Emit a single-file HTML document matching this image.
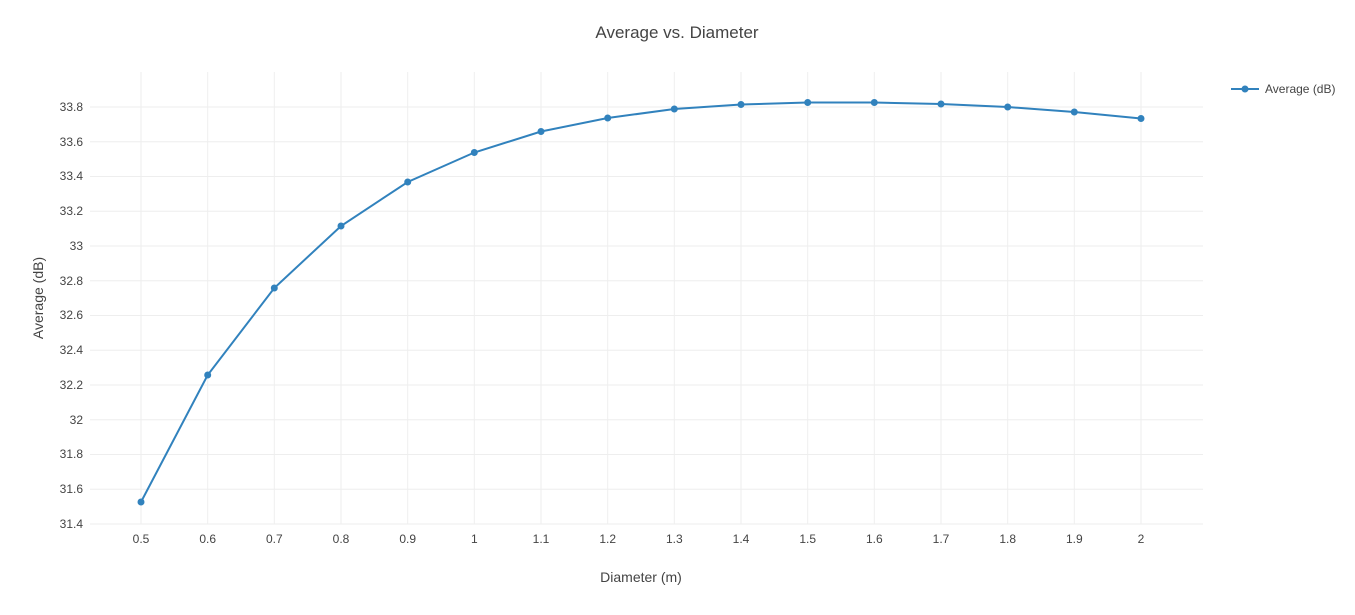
<!DOCTYPE html>
<html><head><meta charset="utf-8"><style>
body{margin:0;background:#fff;}
svg text{font-family:"Liberation Sans",sans-serif;fill:#444;}
</style></head><body>
<svg width="1355" height="610" xmlns="http://www.w3.org/2000/svg">
<rect width="1355" height="610" fill="#fff"/>
<g stroke="#eee" stroke-width="1">
<line x1="141" y1="72" x2="141" y2="524"/><line x1="207.7" y1="72" x2="207.7" y2="524"/><line x1="274.3" y1="72" x2="274.3" y2="524"/><line x1="341" y1="72" x2="341" y2="524"/><line x1="407.7" y1="72" x2="407.7" y2="524"/><line x1="474.3" y1="72" x2="474.3" y2="524"/><line x1="541" y1="72" x2="541" y2="524"/><line x1="607.7" y1="72" x2="607.7" y2="524"/><line x1="674.3" y1="72" x2="674.3" y2="524"/><line x1="741" y1="72" x2="741" y2="524"/><line x1="807.7" y1="72" x2="807.7" y2="524"/><line x1="874.3" y1="72" x2="874.3" y2="524"/><line x1="941" y1="72" x2="941" y2="524"/><line x1="1007.7" y1="72" x2="1007.7" y2="524"/><line x1="1074.3" y1="72" x2="1074.3" y2="524"/><line x1="1141" y1="72" x2="1141" y2="524"/>
<line x1="90" y1="524" x2="1203" y2="524"/><line x1="90" y1="489.25" x2="1203" y2="489.25"/><line x1="90" y1="454.5" x2="1203" y2="454.5"/><line x1="90" y1="419.75" x2="1203" y2="419.75"/><line x1="90" y1="385" x2="1203" y2="385"/><line x1="90" y1="350.25" x2="1203" y2="350.25"/><line x1="90" y1="315.5" x2="1203" y2="315.5"/><line x1="90" y1="280.75" x2="1203" y2="280.75"/><line x1="90" y1="246" x2="1203" y2="246"/><line x1="90" y1="211.25" x2="1203" y2="211.25"/><line x1="90" y1="176.5" x2="1203" y2="176.5"/><line x1="90" y1="141.75" x2="1203" y2="141.75"/><line x1="90" y1="107" x2="1203" y2="107"/>
</g>
<g font-size="12" text-anchor="end">
<text x="83" y="528">31.4</text><text x="83" y="493">31.6</text><text x="83" y="458">31.8</text><text x="83" y="424">32</text><text x="83" y="389">32.2</text><text x="83" y="354">32.4</text><text x="83" y="319">32.6</text><text x="83" y="285">32.8</text><text x="83" y="250">33</text><text x="83" y="215">33.2</text><text x="83" y="180">33.4</text><text x="83" y="146">33.6</text><text x="83" y="111">33.8</text>
</g>
<g font-size="12" text-anchor="middle">
<text x="141" y="543">0.5</text><text x="207.7" y="543">0.6</text><text x="274.3" y="543">0.7</text><text x="341" y="543">0.8</text><text x="407.7" y="543">0.9</text><text x="474.3" y="543">1</text><text x="541" y="543">1.1</text><text x="607.7" y="543">1.2</text><text x="674.3" y="543">1.3</text><text x="741" y="543">1.4</text><text x="807.7" y="543">1.5</text><text x="874.3" y="543">1.6</text><text x="941" y="543">1.7</text><text x="1007.7" y="543">1.8</text><text x="1074.3" y="543">1.9</text><text x="1141" y="543">2</text>
</g>
<text x="677" y="38" font-size="17" text-anchor="middle">Average vs. Diameter</text>
<text x="641" y="582" font-size="14" text-anchor="middle">Diameter (m)</text>
<text transform="translate(43,298) rotate(-90)" font-size="14" text-anchor="middle">Average (dB)</text>
<polyline fill="none" stroke="#3182bd" stroke-width="2" points="141,502 207.7,375 274.3,288 341,226 407.7,182 474.3,152.5 541,131.5 607.7,118 674.3,109 741,104.5 807.7,102.5 874.3,102.5 941,104 1007.7,107 1074.3,112 1141,118.5"/>
<g fill="#3182bd">
<circle cx="141" cy="502" r="3.5"/><circle cx="207.7" cy="375" r="3.5"/><circle cx="274.3" cy="288" r="3.5"/><circle cx="341" cy="226" r="3.5"/><circle cx="407.7" cy="182" r="3.5"/><circle cx="474.3" cy="152.5" r="3.5"/><circle cx="541" cy="131.5" r="3.5"/><circle cx="607.7" cy="118" r="3.5"/><circle cx="674.3" cy="109" r="3.5"/><circle cx="741" cy="104.5" r="3.5"/><circle cx="807.7" cy="102.5" r="3.5"/><circle cx="874.3" cy="102.5" r="3.5"/><circle cx="941" cy="104" r="3.5"/><circle cx="1007.7" cy="107" r="3.5"/><circle cx="1074.3" cy="112" r="3.5"/><circle cx="1141" cy="118.5" r="3.5"/>
</g>
<line x1="1231" y1="89" x2="1259" y2="89" stroke="#3182bd" stroke-width="2"/>
<circle cx="1245" cy="89" r="3.5" fill="#3182bd"/>
<text x="1265" y="93" font-size="12">Average (dB)</text>
</svg>
</body></html>
